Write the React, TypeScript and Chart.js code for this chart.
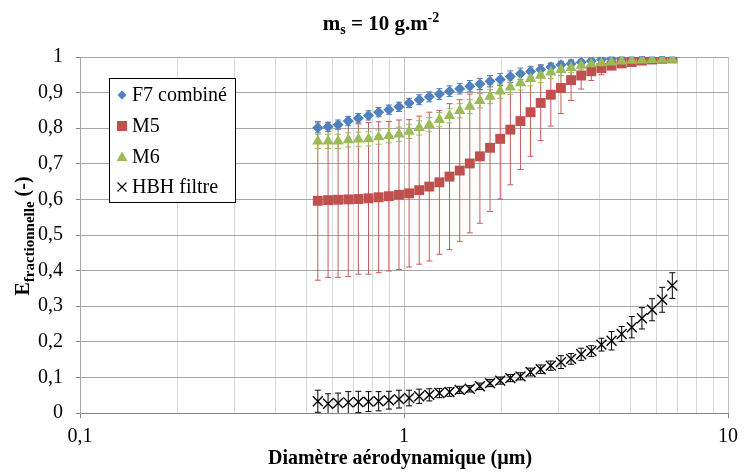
import React, { useEffect, useRef } from 'react';
import { Chart, registerables } from 'chart.js';

Chart.register(...registerables);

// Aerodynamic diameters (µm)
const diameters = [0.542, 0.583, 0.626, 0.673, 0.723, 0.777, 0.835, 0.898, 0.965, 1.037, 1.114, 1.197, 1.286, 1.382, 1.486, 1.596, 1.715, 1.843, 1.981, 2.129, 2.288, 2.458, 2.642, 2.839, 3.051, 3.278, 3.523, 3.786, 4.068, 4.371, 4.698, 5.048, 5.425, 5.829, 6.264, 6.732];

const f7Values = [0.801, 0.804, 0.810, 0.820, 0.828, 0.836, 0.845, 0.852, 0.860, 0.871, 0.880, 0.888, 0.896, 0.904, 0.911, 0.918, 0.924, 0.932, 0.937, 0.945, 0.953, 0.959, 0.965, 0.972, 0.978, 0.981, 0.985, 0.989, 0.993, 0.995, 0.996, 0.997, 0.998, 0.998, 0.999, 0.999];
const f7Errors = [0.014, 0.013, 0.013, 0.013, 0.013, 0.013, 0.013, 0.013, 0.013, 0.013, 0.014, 0.014, 0.015, 0.015, 0.015, 0.016, 0.016, 0.016, 0.017, 0.016, 0.016, 0.015, 0.013, 0.011, 0.010, 0.009, 0.008, 0.007, 0.006, 0.005, 0.004, 0.003, 0.003, 0.002, 0.002, 0.001];

const m5Values = [0.596, 0.598, 0.599, 0.600, 0.601, 0.603, 0.606, 0.609, 0.613, 0.617, 0.626, 0.636, 0.648, 0.664, 0.681, 0.701, 0.721, 0.745, 0.770, 0.796, 0.820, 0.845, 0.871, 0.894, 0.913, 0.935, 0.948, 0.960, 0.969, 0.976, 0.982, 0.986, 0.990, 0.993, 0.995, 0.996];
const m5Errors = [0.223, 0.217, 0.218, 0.217, 0.211, 0.213, 0.212, 0.210, 0.210, 0.207, 0.208, 0.209, 0.202, 0.205, 0.199, 0.195, 0.188, 0.179, 0.169, 0.155, 0.136, 0.124, 0.106, 0.088, 0.072, 0.057, 0.038, 0.026, 0.019, 0.012, 0.008, 0.006, 0.004, 0.003, 0.002, 0.002];

const m6Values = [0.763, 0.763, 0.763, 0.767, 0.769, 0.770, 0.775, 0.779, 0.783, 0.791, 0.801, 0.810, 0.824, 0.835, 0.849, 0.861, 0.877, 0.889, 0.904, 0.915, 0.927, 0.939, 0.948, 0.957, 0.964, 0.970, 0.976, 0.980, 0.983, 0.985, 0.988, 0.990, 0.991, 0.992, 0.993, 0.993];
const m6Errors = [0.020, 0.020, 0.020, 0.020, 0.020, 0.020, 0.020, 0.020, 0.020, 0.020, 0.020, 0.020, 0.020, 0.020, 0.020, 0.020, 0.020, 0.020, 0.020, 0.020, 0.020, 0.020, 0.020, 0.018, 0.016, 0.014, 0.012, 0.010, 0.008, 0.007, 0.006, 0.005, 0.004, 0.003, 0.003, 0.003];

const hbhValues = [0.033, 0.026, 0.028, 0.030, 0.031, 0.032, 0.033, 0.036, 0.039, 0.042, 0.047, 0.051, 0.056, 0.059, 0.065, 0.068, 0.075, 0.084, 0.091, 0.098, 0.103, 0.115, 0.123, 0.133, 0.143, 0.152, 0.165, 0.174, 0.192, 0.203, 0.222, 0.241, 0.266, 0.290, 0.318, 0.358];
const hbhErrors = [0.031, 0.028, 0.028, 0.030, 0.030, 0.028, 0.027, 0.025, 0.025, 0.022, 0.020, 0.017, 0.013, 0.012, 0.010, 0.009, 0.009, 0.010, 0.010, 0.010, 0.010, 0.011, 0.012, 0.013, 0.018, 0.015, 0.017, 0.015, 0.018, 0.026, 0.021, 0.030, 0.030, 0.031, 0.035, 0.036];

const seriesLabels = ['F7 combiné', 'M5', 'M6', 'HBH filtre'];
const seriesColors = ['#4f81bd', '#c0504d', '#9bbb59', '#000000'];
const xGridValues = [0.1, 0.2, 0.3, 0.4, 0.5, 0.6, 0.7, 0.8, 0.9, 1, 2, 3, 4, 5, 6, 7, 8, 9, 10];
const xLabelValues = [0.1, 1, 10];

const FONT = '"Liberation Serif", "Times New Roman", serif';

const isDecade = (v: number) => {
  const l = Math.log10(v);
  return Math.abs(l - Math.round(l)) < 1e-9;
};
const fr = (v: number) => String(Math.round(v * 1000) / 1000).replace('.', ',');

type Seg = { text: string; font: string; dy?: number };
function drawRich(ctx: CanvasRenderingContext2D, segs: Seg[], cx: number, baseline: number) {
  let total = 0;
  segs.forEach((s) => {
    ctx.font = s.font;
    total += ctx.measureText(s.text).width;
  });
  let x = cx - total / 2;
  segs.forEach((s) => {
    ctx.font = s.font;
    ctx.fillText(s.text, x, baseline + (s.dy || 0));
    x += ctx.measureText(s.text).width;
  });
}

const errorBarPlugin = {
  id: 'errorBars',
  beforeDatasetsDraw(chart: any) {
    const ctx = chart.ctx as CanvasRenderingContext2D;
    const yScale = chart.scales.y;
    chart.data.datasets.forEach((ds: any, di: number) => {
      const meta = chart.getDatasetMeta(di);
      ctx.save();
      ctx.strokeStyle = ds.errorColor;
      ctx.lineWidth = 1;
      meta.data.forEach((pt: any, i: number) => {
        const v = ds.data[i].y;
        const e = ds.errors[i];
        const yTop = yScale.getPixelForValue(v + e);
        const yBot = yScale.getPixelForValue(Math.max(0, v - e));
        const x = pt.x;
        ctx.beginPath();
        ctx.moveTo(x, yTop);
        ctx.lineTo(x, yBot);
        ctx.moveTo(x - 3, yTop);
        ctx.lineTo(x + 3, yTop);
        if (v - e > 0) {
          ctx.moveTo(x - 3, yBot);
          ctx.lineTo(x + 3, yBot);
        }
        ctx.stroke();
      });
      ctx.restore();
    });
  },
};

const textPlugin = {
  id: 'texts',
  afterDraw(chart: any) {
    const ctx = chart.ctx as CanvasRenderingContext2D;
    ctx.save();
    ctx.fillStyle = '#000';
    ctx.textAlign = 'left';
    ctx.textBaseline = 'alphabetic';

    // Title
    drawRich(
      ctx,
      [
        { text: 'm', font: `bold 21px ${FONT}` },
        { text: 's', font: `bold 14px ${FONT}`, dy: 4 },
        { text: ' = 10 g.m', font: `bold 21px ${FONT}` },
        { text: '-2', font: `bold 14px ${FONT}`, dy: -8 },
      ],
      381,
      30
    );

    // X title
    drawRich(ctx, [{ text: 'Diamètre aérodynamique (µm)', font: `bold 20px ${FONT}` }], 400, 464);

    // Y title
    ctx.save();
    ctx.translate(29, 236);
    ctx.rotate(-Math.PI / 2);
    drawRich(
      ctx,
      [
        { text: 'E', font: `bold 20px ${FONT}` },
        { text: 'fractionnelle', font: `bold 15px ${FONT}`, dy: 5 },
        { text: ' (-)', font: `bold 20px ${FONT}` },
      ],
      0,
      0
    );
    ctx.restore();

    // Legend
    const lx = 109, ly = 78, lw = 126, lh = 124;
    ctx.fillStyle = '#ffffff';
    ctx.fillRect(lx, ly, lw, lh);
    ctx.strokeStyle = '#000';
    ctx.lineWidth = 1;
    ctx.strokeRect(lx + 0.5, ly + 0.5, lw, lh);
    const rows = [95, 126, 157, 187];
    const mx = 122;
    rows.forEach((ry, i) => {
      ctx.fillStyle = seriesColors[i];
      ctx.strokeStyle = seriesColors[i];
      ctx.beginPath();
      if (i === 0) {
        ctx.moveTo(mx, ry - 4.5);
        ctx.lineTo(mx + 4.5, ry);
        ctx.lineTo(mx, ry + 4.5);
        ctx.lineTo(mx - 4.5, ry);
        ctx.closePath();
        ctx.fill();
      } else if (i === 1) {
        ctx.rect(mx - 5, ry - 5, 10, 10);
        ctx.fill();
      } else if (i === 2) {
        ctx.moveTo(mx, ry - 5.5);
        ctx.lineTo(mx + 5.5, ry + 4);
        ctx.lineTo(mx - 5.5, ry + 4);
        ctx.closePath();
        ctx.fill();
      } else {
        ctx.lineWidth = 1.2;
        ctx.moveTo(mx - 4.5, ry - 4.5);
        ctx.lineTo(mx + 4.5, ry + 4.5);
        ctx.moveTo(mx + 4.5, ry - 4.5);
        ctx.lineTo(mx - 4.5, ry + 4.5);
        ctx.stroke();
      }
      ctx.fillStyle = '#000';
      ctx.font = `20px ${FONT}`;
      ctx.textBaseline = 'middle';
      ctx.fillText(seriesLabels[i], 132, ry + 1);
    });
    ctx.restore();
  },
};

export default function App() {
  const canvasRef = useRef<HTMLCanvasElement | null>(null);

  useEffect(() => {
    document.body.style.margin = '0';
    const canvas = canvasRef.current;
    if (!canvas) return;
    const mk = (vals: number[]) => diameters.map((d, i) => ({ x: d, y: vals[i] }));
    const chart = new Chart(canvas, {
      type: 'scatter',
      data: {
        datasets: [
          {
            label: seriesLabels[0],
            data: mk(f7Values),
            errors: f7Errors,
            errorColor: '#4f81bd',
            pointStyle: 'rectRot',
            pointRadius: 5.5,
            backgroundColor: seriesColors[0],
            borderColor: seriesColors[0],
            borderWidth: 0,
            order: 3,
          } as any,
          {
            label: seriesLabels[1],
            data: mk(m5Values),
            errors: m5Errors,
            errorColor: '#c65b58',
            pointStyle: 'rect',
            pointRadius: 7,
            backgroundColor: seriesColors[1],
            borderColor: seriesColors[1],
            borderWidth: 0,
            order: 2,
          } as any,
          {
            label: seriesLabels[2],
            data: mk(m6Values),
            errors: m6Errors,
            errorColor: '#9bbb59',
            pointStyle: 'triangle',
            pointRadius: 6.5,
            backgroundColor: seriesColors[2],
            borderColor: seriesColors[2],
            borderWidth: 0,
            order: 1,
          } as any,
          {
            label: seriesLabels[3],
            data: mk(hbhValues),
            errors: hbhErrors,
            errorColor: '#000000',
            pointStyle: 'crossRot',
            pointRadius: 7,
            backgroundColor: 'transparent',
            borderColor: '#000000',
            borderWidth: 1.4,
            order: 0,
          } as any,
        ],
      },
      options: {
        responsive: false,
        animation: false,
        devicePixelRatio: 1,
        layout: { padding: { left: 0, right: 12, top: 57, bottom: 0 } },
        plugins: {
          legend: { display: false },
          tooltip: { enabled: false },
          title: { display: false },
        },
        scales: {
          x: {
            type: 'logarithmic',
            min: 0.1,
            max: 10,
            position: 'bottom',
            afterBuildTicks: (scale: any) => {
              scale.ticks = xGridValues.map((v) => ({ value: v, major: isDecade(v) }));
            },
            afterFit: (scale: any) => {
              scale.height = 62;
            },
            ticks: {
              autoSkip: false,
              maxRotation: 0,
              minRotation: 0,
              color: '#000',
              padding: 7,
              font: { family: FONT, size: 20 },
              callback: (v: any) => {
                const n = Number(v);
                return xLabelValues.some((t) => Math.abs(t - n) < 1e-9) ? fr(n) : '';
              },
            },
            grid: {
              color: (c: any) => (c.tick && isDecade(c.tick.value) ? '#c0c0c0' : '#d9d9d9'),
              tickColor: (c: any) => (c.tick && isDecade(c.tick.value) ? '#868686' : 'rgba(0,0,0,0)'),
              tickLength: 5,
              lineWidth: 1,
            },
            border: { color: '#868686', width: 1 },
          },
          y: {
            type: 'linear',
            min: 0,
            max: 1,
            afterFit: (scale: any) => {
              scale.width = 80;
            },
            ticks: {
              stepSize: 0.1,
              color: '#000',
              padding: 13,
              font: { family: FONT, size: 20 },
              callback: (v: any) => fr(Math.round(Number(v) * 10) / 10),
            },
            grid: {
              color: '#a6a6a6',
              tickColor: '#868686',
              tickLength: 4,
              lineWidth: 1,
            },
            border: { color: '#a6a6a6', width: 1 },
          },
        },
      } as any,
      plugins: [errorBarPlugin, textPlugin],
    });
    return () => chart.destroy();
  }, []);

  return (
    <div style={{ width: 745, height: 475, background: '#fff' }}>
      <canvas ref={canvasRef} width={745} height={475} style={{ display: 'block', width: 745, height: 475 }} />
    </div>
  );
}
